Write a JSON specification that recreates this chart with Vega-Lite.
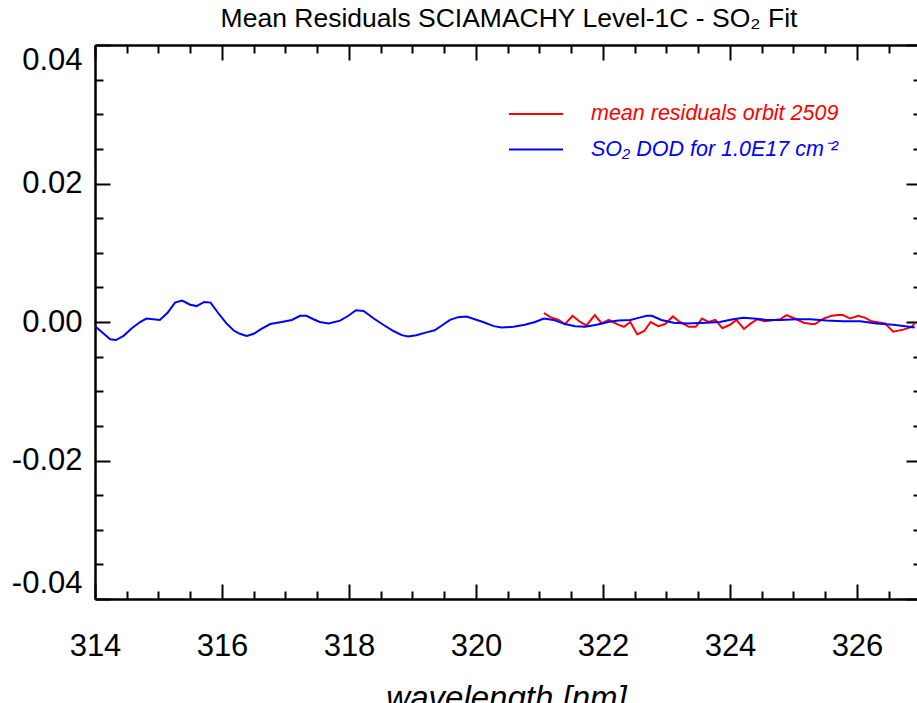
{
  "$schema": "https://vega.github.io/schema/vega-lite/v6.json",
  "width": 822,
  "height": 554,
  "autosize": {"type": "none"},
  "padding": {"left": 95, "top": 45, "right": 0, "bottom": 104},
  "background": "white",
  "title": {"text": "Mean Residuals SCIAMACHY Level-1C - SO₂ Fit", "font": "Liberation Sans", "fontSize": 26.5, "fontWeight": "normal", "color": "#000000", "baseline": "alphabetic", "offset": 16, "dy": 25, "anchor": "middle", "frame": "group", "dx": 3},
  "config": {"view": {"stroke": null}, "font": "Liberation Sans"},
  "data": {"values": [
    {"s":"so2","wl":314.00,"v":-0.0006},{"s":"so2","wl":314.24,"v":-0.0025},{"s":"so2","wl":314.33,"v":-0.0026},{"s":"so2","wl":314.45,"v":-0.0020},
    {"s":"so2","wl":314.58,"v":-0.0009},{"s":"so2","wl":314.71,"v":0.0000},{"s":"so2","wl":314.81,"v":0.0005},{"s":"so2","wl":315.02,"v":0.0003},
    {"s":"so2","wl":315.14,"v":0.0013},{"s":"so2","wl":315.26,"v":0.0028},{"s":"so2","wl":315.37,"v":0.0031},{"s":"so2","wl":315.50,"v":0.0025},
    {"s":"so2","wl":315.60,"v":0.0023},{"s":"so2","wl":315.72,"v":0.0029},{"s":"so2","wl":315.82,"v":0.0028},{"s":"so2","wl":315.94,"v":0.0013},
    {"s":"so2","wl":316.07,"v":-0.0002},{"s":"so2","wl":316.18,"v":-0.0012},{"s":"so2","wl":316.28,"v":-0.0017},{"s":"so2","wl":316.39,"v":-0.0020},
    {"s":"so2","wl":316.50,"v":-0.0017},{"s":"so2","wl":316.62,"v":-0.0010},{"s":"so2","wl":316.76,"v":-0.0003},{"s":"so2","wl":316.94,"v":0.0000},
    {"s":"so2","wl":317.10,"v":0.0003},{"s":"so2","wl":317.23,"v":0.0009},{"s":"so2","wl":317.33,"v":0.0009},{"s":"so2","wl":317.44,"v":0.0004},
    {"s":"so2","wl":317.54,"v":0.0000},{"s":"so2","wl":317.68,"v":-0.0002},{"s":"so2","wl":317.86,"v":0.0002},{"s":"so2","wl":317.99,"v":0.0009},
    {"s":"so2","wl":318.11,"v":0.0017},{"s":"so2","wl":318.23,"v":0.0016},{"s":"so2","wl":318.39,"v":0.0005},{"s":"so2","wl":318.54,"v":-0.0004},
    {"s":"so2","wl":318.70,"v":-0.0013},{"s":"so2","wl":318.83,"v":-0.0019},{"s":"so2","wl":318.93,"v":-0.0021},{"s":"so2","wl":319.06,"v":-0.0019},
    {"s":"so2","wl":319.22,"v":-0.0015},{"s":"so2","wl":319.35,"v":-0.0012},{"s":"so2","wl":319.48,"v":-0.0004},{"s":"so2","wl":319.59,"v":0.0003},
    {"s":"so2","wl":319.72,"v":0.0007},{"s":"so2","wl":319.85,"v":0.0008},{"s":"so2","wl":319.98,"v":0.0004},{"s":"so2","wl":320.11,"v":0.0000},
    {"s":"so2","wl":320.28,"v":-0.0006},{"s":"so2","wl":320.40,"v":-0.0008},{"s":"so2","wl":320.59,"v":-0.0007},{"s":"so2","wl":320.77,"v":-0.0004},
    {"s":"so2","wl":320.93,"v":0.0000},{"s":"so2","wl":321.07,"v":0.0005},{"s":"so2","wl":321.22,"v":0.0003},{"s":"so2","wl":321.40,"v":-0.0003},
    {"s":"so2","wl":321.56,"v":-0.0006},{"s":"so2","wl":321.72,"v":-0.0007},{"s":"so2","wl":321.90,"v":-0.0004},{"s":"so2","wl":322.08,"v":0.0000},
    {"s":"so2","wl":322.24,"v":0.0002},{"s":"so2","wl":322.43,"v":0.0003},{"s":"so2","wl":322.56,"v":0.0006},{"s":"so2","wl":322.69,"v":0.0009},
    {"s":"so2","wl":322.77,"v":0.0009},{"s":"so2","wl":322.92,"v":0.0003},{"s":"so2","wl":323.11,"v":-0.0001},{"s":"so2","wl":323.32,"v":-0.0002},
    {"s":"so2","wl":323.63,"v":-0.0001},{"s":"so2","wl":323.84,"v":0.0000},{"s":"so2","wl":324.05,"v":0.0004},{"s":"so2","wl":324.21,"v":0.0006},
    {"s":"so2","wl":324.37,"v":0.0005},{"s":"so2","wl":324.58,"v":0.0003},{"s":"so2","wl":324.79,"v":0.0003},{"s":"so2","wl":325.05,"v":0.0004},
    {"s":"so2","wl":325.26,"v":0.0004},{"s":"so2","wl":325.52,"v":0.0002},{"s":"so2","wl":325.78,"v":0.0001},{"s":"so2","wl":326.05,"v":0.0001},
    {"s":"so2","wl":326.31,"v":-0.0002},{"s":"so2","wl":326.57,"v":-0.0004},{"s":"so2","wl":326.76,"v":-0.0006},{"s":"so2","wl":326.91,"v":-0.0008},
    {"s":"res","wl":321.07,"v":0.0013},{"s":"res","wl":321.17,"v":0.0007},{"s":"res","wl":321.30,"v":0.0003},{"s":"res","wl":321.40,"v":-0.0003},
    {"s":"res","wl":321.52,"v":0.0009},{"s":"res","wl":321.64,"v":0.0000},{"s":"res","wl":321.74,"v":-0.0005},{"s":"res","wl":321.87,"v":0.0010},
    {"s":"res","wl":321.98,"v":-0.0002},{"s":"res","wl":322.09,"v":0.0003},{"s":"res","wl":322.22,"v":-0.0003},{"s":"res","wl":322.33,"v":-0.0007},
    {"s":"res","wl":322.43,"v":0.0000},{"s":"res","wl":322.54,"v":-0.0018},{"s":"res","wl":322.65,"v":-0.0013},{"s":"res","wl":322.75,"v":0.0000},
    {"s":"res","wl":322.87,"v":-0.0006},{"s":"res","wl":322.98,"v":-0.0003},{"s":"res","wl":323.10,"v":0.0008},{"s":"res","wl":323.21,"v":0.0000},
    {"s":"res","wl":323.35,"v":-0.0007},{"s":"res","wl":323.46,"v":-0.0007},{"s":"res","wl":323.56,"v":0.0005},{"s":"res","wl":323.66,"v":0.0000},
    {"s":"res","wl":323.77,"v":0.0003},{"s":"res","wl":323.88,"v":-0.0009},{"s":"res","wl":324.00,"v":-0.0004},{"s":"res","wl":324.10,"v":0.0003},
    {"s":"res","wl":324.22,"v":-0.0010},{"s":"res","wl":324.33,"v":-0.0002},{"s":"res","wl":324.43,"v":0.0004},{"s":"res","wl":324.55,"v":0.0001},
    {"s":"res","wl":324.79,"v":0.0004},{"s":"res","wl":324.89,"v":0.0010},{"s":"res","wl":325.02,"v":0.0005},{"s":"res","wl":325.16,"v":-0.0001},
    {"s":"res","wl":325.28,"v":-0.0003},{"s":"res","wl":325.34,"v":-0.0003},{"s":"res","wl":325.47,"v":0.0005},{"s":"res","wl":325.60,"v":0.0009},
    {"s":"res","wl":325.71,"v":0.0010},{"s":"res","wl":325.78,"v":0.0010},{"s":"res","wl":325.89,"v":0.0005},{"s":"res","wl":326.02,"v":0.0009},
    {"s":"res","wl":326.13,"v":0.0006},{"s":"res","wl":326.23,"v":0.0001},{"s":"res","wl":326.44,"v":-0.0002},{"s":"res","wl":326.57,"v":-0.0014},
    {"s":"res","wl":326.73,"v":-0.0011},{"s":"res","wl":326.86,"v":-0.0007},{"s":"res","wl":326.91,"v":-0.0002}
  ]},
  "layer": [
    {
      "transform": [{"filter": "datum.s === 'res'"}],
      "mark": {"type": "line", "strokeWidth": 2, "clip": true},
      "encoding": {
        "x": {"field": "wl", "type": "quantitative",
          "scale": {"domain": [314, 326.945], "nice": false, "zero": false},
          "axis": {"orient": "top", "title": null, "labels": false, "grid": false,
            "values": [314,314.5,315,315.5,316,316.5,317,317.5,318,318.5,319,319.5,320,320.5,321,321.5,322,322.5,323,323.5,324,324.5,325,325.5,326,326.5],
            "tickSize": {"condition": {"test": "datum.value % 2 === 0", "value": -15}, "value": -8},
            "tickWidth": 2, "tickColor": "#000000", "domainColor": "#000000", "domainWidth": 2.5}},
        "y": {"field": "v", "type": "quantitative",
          "scale": {"domain": [-0.04, 0.04], "nice": false, "zero": false},
          "axis": {"orient": "right", "offset": 4, "title": null, "labels": false, "grid": false,
            "values": [-0.04,-0.035,-0.03,-0.025,-0.02,-0.015,-0.01,-0.005,0,0.005,0.01,0.015,0.02,0.025,0.03,0.035,0.04],
            "tickSize": {"condition": {"test": "abs(datum.value / 0.02 - round(datum.value / 0.02)) < 0.001", "value": -15}, "value": -8},
            "tickWidth": 2, "tickColor": "#000000", "domainColor": "#000000", "domainWidth": 2.5}},
        "color": {"field": "s", "type": "nominal",
          "scale": {"domain": ["res", "so2"], "range": ["#ff0000", "#0000ff"]},
          "legend": {"orient": "none", "legendX": 413, "legendY": 58, "title": null, "padding": 0,
            "symbolType": "M-1,0H4.4", "symbolSize": 400, "symbolStrokeWidth": 2,
            "labelExpr": "datum.value === 'res' ? 'mean residuals orbit 2509' : 'SO₂ DOD for 1.0E17 cm⁻²'",
            "labelFont": "Liberation Sans", "labelFontSize": 21.5, "labelFontStyle": "italic",
            "labelOffset": 61, "labelLimit": 500, "rowPadding": 13.5,
            "encode": {"labels": {"update": {"fill": {"scale": "color", "field": "value"}}}}}}
      }
    },
    {
      "transform": [{"filter": "datum.s === 'so2'"}],
      "mark": {"type": "line", "strokeWidth": 2, "clip": true},
      "encoding": {
        "x": {"field": "wl", "type": "quantitative",
          "scale": {"domain": [314, 326.945], "nice": false, "zero": false},
          "axis": {"orient": "bottom", "grid": false,
            "values": [314,314.5,315,315.5,316,316.5,317,317.5,318,318.5,319,319.5,320,320.5,321,321.5,322,322.5,323,323.5,324,324.5,325,325.5,326,326.5],
            "tickSize": {"condition": {"test": "datum.value % 2 === 0", "value": -15}, "value": -8},
            "tickWidth": 2, "tickColor": "#000000", "domainColor": "#000000", "domainWidth": 2.5,
            "labelExpr": "datum.value % 2 === 0 ? format(datum.value, 'd') : ''",
            "labelFont": "Liberation Sans", "labelFontSize": 31, "labelColor": "#000000",
            "labelPadding": 47, "labelOverlap": false, "labelFlush": false,
            "title": "wavelength [nm]", "titleFont": "Liberation Sans", "titleFontSize": 33, "titleFontStyle": "italic",
            "titleFontWeight": "normal", "titleColor": "#000000", "titleX": 411, "titleY": 109,
            "titleBaseline": "alphabetic", "titleAlign": "center", "titleAnchor": null}},
        "y": {"field": "v", "type": "quantitative",
          "scale": {"domain": [-0.04, 0.04], "nice": false, "zero": false},
          "axis": {"orient": "left", "title": null, "grid": false,
            "values": [-0.04,-0.035,-0.03,-0.025,-0.02,-0.015,-0.01,-0.005,0,0.005,0.01,0.015,0.02,0.025,0.03,0.035,0.04],
            "tickSize": {"condition": {"test": "abs(datum.value / 0.02 - round(datum.value / 0.02)) < 0.001", "value": -15}, "value": -8},
            "tickWidth": 2, "tickColor": "#000000", "domainColor": "#000000", "domainWidth": 2.5,
            "labelExpr": "abs(datum.value / 0.02 - round(datum.value / 0.02)) < 0.001 ? (datum.value < -0.0001 ? '-' + format(abs(datum.value), '.2f') : format(abs(datum.value), '.2f')) : ''",
            "labelFont": "Liberation Sans", "labelFontSize": 31, "labelColor": "#000000",
            "labelPadding": 28, "labelOverlap": false, "labelFlush": true, "labelFlushOffset": 0}},
        "color": {"field": "s", "type": "nominal",
          "scale": {"domain": ["res", "so2"], "range": ["#ff0000", "#0000ff"]},
          "legend": {"orient": "none", "legendX": 413, "legendY": 58, "title": null, "padding": 0,
            "symbolType": "M-1,0H4.4", "symbolSize": 400, "symbolStrokeWidth": 2,
            "labelExpr": "datum.value === 'res' ? 'mean residuals orbit 2509' : 'SO₂ DOD for 1.0E17 cm⁻²'",
            "labelFont": "Liberation Sans", "labelFontSize": 21.5, "labelFontStyle": "italic",
            "labelOffset": 61, "labelLimit": 500, "rowPadding": 13.5,
            "encode": {"labels": {"update": {"fill": {"scale": "color", "field": "value"}}}}}}
      }
    }
  ],
  "resolve": {"axis": {"x": "independent", "y": "independent"}}
}
